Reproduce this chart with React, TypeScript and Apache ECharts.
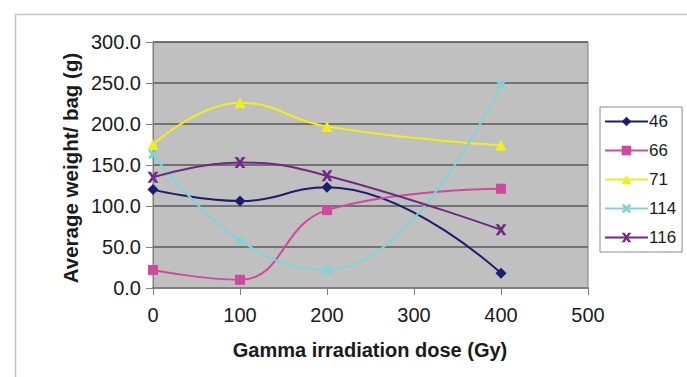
import React, { useEffect, useRef } from "react";
import * as echarts from "echarts";

// Gamma irradiation doses (Gy)
const doses = [0, 100, 200, 400];

// Average weight per bag (g) for each line
const seriesNames = ["46", "66", "71", "114", "116"];
const line46 = [120, 106, 123, 18];
const line66 = [22, 10, 95, 121];
const line71 = [175, 226, 197, 174];
const line114 = [163, 58, 22, 248];
const line116 = [135, 153, 137, 71];

const yTicks = [0, 50, 100, 150, 200, 250, 300];
const xTicks = [0, 100, 200, 300, 400, 500];

const colors = ["#1c1c70", "#cf4a9c", "#eeee22", "#80d4d8", "#702a82"];

const crossPath =
  "path://M2,0 L5,3 L8,0 L10,2 L7,5 L10,8 L8,10 L5,7 L2,10 L0,8 L3,5 L0,2 Z";
const starPath =
  "path://M0,0 L3,0 L5,3 L7,0 L10,0 L6.5,5 L10,10 L7,10 L5,7 L3,10 L0,10 L3.5,5 Z";

export default function App() {
  const ref = useRef<HTMLDivElement>(null);

  useEffect(() => {
    if (!ref.current) return;
    document.body.style.margin = "0";
    const chart = echarts.init(ref.current, undefined, { renderer: "svg" });

    const mk = (
      name: string,
      values: number[],
      color: string,
      symbol: string,
      symbolSize: number
    ) => ({
      name,
      type: "line",
      smooth: 0.45,
      data: doses.map((d, i) => [d, values[i]]),
      symbol,
      symbolSize,
      lineStyle: { color, width: 2 },
      itemStyle: { color },
    });

    chart.setOption({
      animation: false,
      backgroundColor: "#ffffff",
      textStyle: { fontFamily: "Liberation Sans, Arial, sans-serif" },
      grid: { left: 153, right: 99, top: 42, bottom: 89, show: true, backgroundColor: "#c0c0c0", borderColor: "#808080", borderWidth: 1 },
      xAxis: {
        type: "value",
        min: 0,
        max: 500,
        interval: 100,
        axisLine: { show: true, lineStyle: { color: "#808080", width: 2 } },
        axisTick: { show: true, length: 7, lineStyle: { color: "#808080" } },
        splitLine: { show: false },
        axisLabel: {
          color: "#1a1a1a",
          fontSize: 20,
          margin: 17,
          formatter: (v: number) => (xTicks.includes(v) ? String(v) : ""),
        },
      },
      yAxis: {
        type: "value",
        min: 0,
        max: 300,
        interval: 50,
        axisLine: { show: true, lineStyle: { color: "#808080", width: 1 } },
        axisTick: { show: true, length: 7, lineStyle: { color: "#808080" } },
        splitLine: { show: true, lineStyle: { color: "#5a5a5a", width: 1.5 } },
        axisLabel: {
          color: "#1a1a1a",
          fontSize: 20,
          margin: 12,
          formatter: (v: number) => (yTicks.includes(v) ? v.toFixed(1) : ""),
        },
      },
      legend: {
        orient: "vertical",
        left: 600,
        top: 107,
        itemWidth: 43,
        itemHeight: 12,
        itemGap: 12,
        padding: [6, 6, 6, 4],
        borderColor: "#8a8a8a",
        borderWidth: 1,
        backgroundColor: "#ffffff",
        textStyle: { fontSize: 17, color: "#1a1a1a", padding: [0, 0, 0, -4] },
        data: seriesNames,
      },
      graphic: [
        {
          type: "rect",
          left: 13,
          top: 12,
          shape: { width: 673, height: 370 },
          style: { fill: "none", stroke: "#c4c4c4", lineWidth: 1.5 },
          z: -1,
        },
        {
          type: "text",
          x: 370,
          y: 350,
          style: {
            text: "Gamma irradiation dose (Gy)",
            font: "bold 20px Liberation Sans, Arial, sans-serif",
            fill: "#1a1a1a",
            align: "center",
            verticalAlign: "middle",
          },
        },
        {
          type: "text",
          x: 70,
          y: 168,
          rotation: Math.PI / 2,
          style: {
            text: "Average weight/ bag (g)",
            font: "bold 20.5px Liberation Sans, Arial, sans-serif",
            fill: "#1a1a1a",
            align: "center",
            verticalAlign: "middle",
          },
        },
      ],
      series: [
        mk("46", line46, colors[0], "diamond", 11),
        mk("66", line66, colors[1], "rect", 10),
        mk("71", line71, colors[2], "triangle", 11),
        mk("114", line114, colors[3], crossPath, 10),
        mk("116", line116, colors[4], starPath, 11),
      ],
    });

    return () => chart.dispose();
  }, []);

  return <div ref={ref} style={{ width: 687, height: 377 }} />;
}
